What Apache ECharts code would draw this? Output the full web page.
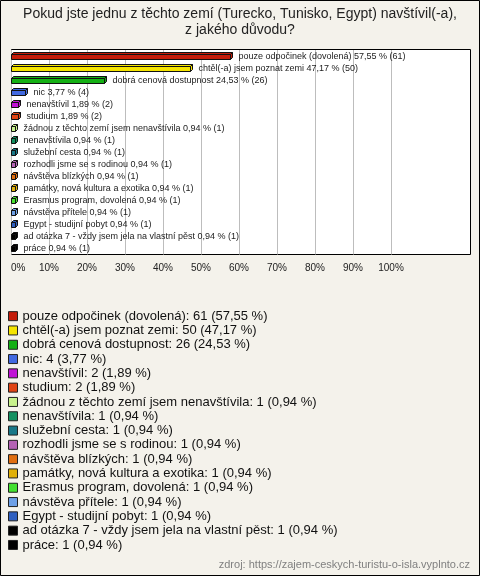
<!DOCTYPE html>
<html><head><meta charset="utf-8">
<script src="https://cdn.jsdelivr.net/npm/echarts@6/dist/echarts.min.js"></script>
<style>html,body{margin:0;padding:0;background:#f4f2eb;}#c{width:480px;height:576px;}</style>
</head><body><div id="c"></div>
<script>
var titleText = 'Pokud jste jednu z těchto zemí (Turecko, Tunisko, Egypt) navštívil(-a),\nz jakého důvodu?';
var categories = [
  "pouze odpočinek (dovolená)",
  "chtěl(-a) jsem poznat zemi",
  "dobrá cenová dostupnost",
  "nic",
  "nenavštívil",
  "studium",
  "žádnou z těchto zemí jsem nenavštívila",
  "nenavštívila",
  "služební cesta",
  "rozhodli jsme se s rodinou",
  "návštěva blízkých",
  "památky, nová kultura a exotika",
  "Erasmus program, dovolená",
  "návstěva přítele",
  "Egypt - studijní pobyt",
  "ad otázka 7 - vždy jsem jela na vlastní pěst",
  "práce"
];
var counts = [61, 50, 26, 4, 2, 2, 1, 1, 1, 1, 1, 1, 1, 1, 1, 1, 1];
var percents = [57.55, 47.17, 24.53, 3.77, 1.89, 1.89, 0.94, 0.94, 0.94, 0.94, 0.94, 0.94, 0.94, 0.94, 0.94, 0.94, 0.94];
var xTicks = [0, 10, 20, 30, 40, 50, 60, 70, 80, 90, 100];
var palette = ["#c41c0a", "#f5e400", "#14b014", "#4169e1", "#c012d6", "#e04414", "#c8f28c", "#139060",
  "#197888", "#b462b4", "#e06e10", "#e0b00a", "#44e030", "#6ea0e6", "#3060c0", "#000000", "#000000"];

function fmt(p) { return p.toFixed(2).replace('.', ','); }

var chart = echarts.init(document.getElementById('c'), null, {renderer: 'canvas'});

var series = categories.map(function (cat, i) {
  return {
    type: 'custom',
    name: categories[i],
    clip: false,
    itemStyle: {color: palette[i]},
    data: [[percents[i], i]],
    renderItem: function (params, api) {
      var v = api.value(0), c = api.value(1);
      var p0 = api.coord([0, c]);
      var p1 = api.coord([v, c]);
      var yc = Math.round(p0[1]);
      var x0 = Math.round(p0[0]) + 0.5, x1 = Math.round(p1[0]) + 0.5;
      var d = 2;
      var ft = yc - 1.5, fb = yc + 3.5;
      var col = palette[i];
      var st = {stroke: '#111', lineWidth: 1};
      return {
        type: 'group',
        children: [
          {type: 'polygon', shape: {points: [[x0, ft], [x0 + d, ft - d], [x1 + d, ft - d], [x1, ft]]},
            style: Object.assign({fill: col}, st)},
          {type: 'polygon', shape: {points: [[x1, ft], [x1 + d, ft - d], [x1 + d, fb - d], [x1, fb]]},
            style: Object.assign({fill: col}, st)},
          {type: 'rect', shape: {x: x0, y: ft, width: x1 - x0, height: fb - ft},
            style: Object.assign({fill: col}, st)},
          {type: 'text', x: x1 + d + 6, y: yc + 0.5,
            style: {text: categories[i] + ' ' + fmt(percents[i]) + ' % (' + counts[i] + ')',
              fill: '#222', font: '9px "Liberation Sans", Arial, sans-serif', verticalAlign: 'middle', align: 'left'}}
        ]
      };
    }
  };
});

var option = {
  backgroundColor: '#f4f2eb',
  animation: false,
  graphic: [
    {type: 'rect', z: -10, silent: true, shape: {x: 11.5, y: 49.5, width: 459, height: 205},
      style: {fill: '#ffffff', stroke: '#000', lineWidth: 1}},
    {type: 'rect', z: 100, silent: true, shape: {x: 0.5, y: 0.5, width: 479, height: 575},
      style: {fill: 'none', stroke: '#000', lineWidth: 1}},
    {type: 'text', x: 240, y: 6, silent: true,
      style: {text: titleText, fill: '#222', align: 'center', lineHeight: 16,
        font: '14px "Liberation Sans", Arial, sans-serif'}},
    {type: 'text', right: 10, top: 559, silent: true,
      style: {text: 'zdroj: https://zajem-ceskych-turistu-o-isla.vyplnto.cz', fill: '#808080',
        font: '11px "Liberation Sans", Arial, sans-serif'}}
  ],
  grid: {left: 11, top: 50, width: 380, height: 204.5, containLabel: false},
  xAxis: {
    type: 'value', min: xTicks[0], max: xTicks[xTicks.length - 1], interval: 10,
    axisLine: {show: false}, axisTick: {show: false},
    splitLine: {show: true, lineStyle: {color: '#bdbdbd', width: 1}},
    axisLabel: {formatter: '{value}%', fontSize: 10, color: '#222', margin: 9,
      fontFamily: 'Liberation Sans, Arial, sans-serif', alignMinLabel: 'left'}
  },
  yAxis: {
    type: 'category', inverse: true, data: categories,
    axisLine: {show: false}, axisTick: {show: false}, axisLabel: {show: false}, splitLine: {show: false}
  },
  legend: {
    orient: 'vertical', left: 8, top: 309, padding: 0, selectedMode: false,
    icon: 'rect', itemWidth: 9, itemHeight: 9, itemGap: 0,
    itemStyle: {borderColor: '#222', borderWidth: 1},
    textStyle: {fontSize: 13, lineHeight: 14.3, color: '#111', fontFamily: 'Liberation Sans, Arial, sans-serif'},
    data: categories,
    formatter: function (name) {
      var i = categories.indexOf(name);
      return name + ': ' + counts[i] + ' (' + fmt(percents[i]) + ' %)';
    }
  },
  series: series
};
chart.setOption(option);
</script>
</body></html>
